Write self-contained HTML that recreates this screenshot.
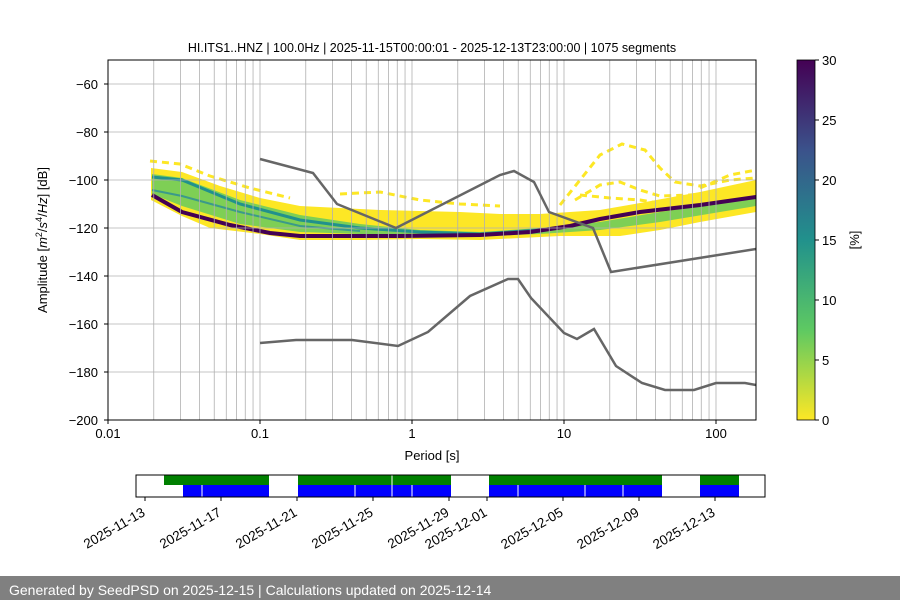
<!DOCTYPE html>
<html><head><meta charset="utf-8"><style>
body{margin:0;background:#fff;width:900px;height:600px;overflow:hidden;font-family:"Liberation Sans","DejaVu Sans",sans-serif}
</style></head><body>
<svg width="900" height="600" xmlns="http://www.w3.org/2000/svg" font-family="Liberation Sans, DejaVu Sans, sans-serif">
<defs>
<linearGradient id="vir" x1="0" y1="1" x2="0" y2="0">
<stop offset="0" stop-color="#fde725"/><stop offset="0.25" stop-color="#5ec962"/><stop offset="0.5" stop-color="#21918c"/><stop offset="0.75" stop-color="#3b528b"/><stop offset="1" stop-color="#440154"/>
</linearGradient>
<clipPath id="pc"><rect x="108" y="60" width="648" height="360"/></clipPath>
</defs>
<text x="432" y="52" font-size="12.5" text-anchor="middle">HI.ITS1..HNZ | 100.0Hz | 2025-11-15T00:00:01 - 2025-12-13T23:00:00 | 1075 segments</text>
<g clip-path="url(#pc)">
<!-- yellow cloud (main) -->
<polygon fill="#fde725" points="151,168 182,172 220,186 260,198 300,206 340,208 380,210 420,211 460,212 500,214 540,214 570,212 600,210 640,203 700,192 756,180 756,212 700,222 660,230 620,236 590,236 560,236 520,238 480,240 420,239 360,240 300,240 260,234 210,228 182,216 151,200"/>
<!-- scattered upper yellow -->
<g fill="none" stroke="#fde725" stroke-width="3" stroke-dasharray="7 5">
<polyline points="150,161 180,164 210,176 250,188 290,198"/>
<polyline points="340,194 380,192 420,200 460,204 500,206"/>
<polyline points="560,205 580,180 600,155 622,144 645,150 660,168 675,182 700,186 730,180 756,178"/>
<polyline points="575,200 600,185 620,182 640,190 660,196 690,195 720,192 756,186"/>
<polyline points="580,195 610,198 640,200 670,205"/>
<polyline points="700,188 730,175 756,170"/>
</g>
<!-- green band -->
<polygon fill="#5ec962" opacity="0.8" points="152,174 182,178 240,200 300,215 360,224 420,230 480,232 540,228 600,222 660,212 756,198 756,206 660,222 600,230 540,234 480,236 420,236 360,234 300,232 240,224 182,206 152,194"/>
<polyline fill="none" stroke="#21918c" stroke-width="3" points="152,177 182,180 240,204 300,220 360,228 420,232 480,234 540,230"/>
<polyline fill="none" stroke="#3b9a8a" stroke-width="2" points="152,190 182,196 240,212 300,226 360,231"/>
<!-- mode line -->
<polyline fill="none" stroke="#440154" stroke-width="4" points="152,195 182,212 230,225 270,233 300,236 400,236 480,235 530,232 570,226 600,219 640,212 700,205 756,197"/>
<!-- grid -->
<g stroke="#b0b0b0" stroke-width="0.8">
<line x1="108" y1="84" x2="756" y2="84"/><line x1="108" y1="132" x2="756" y2="132"/><line x1="108" y1="180" x2="756" y2="180"/><line x1="108" y1="228" x2="756" y2="228"/><line x1="108" y1="276" x2="756" y2="276"/><line x1="108" y1="324" x2="756" y2="324"/><line x1="108" y1="372" x2="756" y2="372"/>
</g>
<g stroke="#b0b0b0" stroke-width="0.8" id="vg"></g>
<!-- models -->
<polyline fill="none" stroke="#666" stroke-width="2.5" points="260,159 313,173 337,204 396,228 500,175 514,171 534,182 549,212 593,228 611,272 756,249"/>
<polyline fill="none" stroke="#666" stroke-width="2.5" points="260,343 296,340 352,340 398,346 428,332 470,296 508,279 518,279 531,298 564,333 577,339 594,329 616,366 642,383 665,390 694,390 716,383 745,383 756,385"/>
</g>
<rect x="108" y="60" width="648" height="360" fill="none" stroke="#000" stroke-width="1"/>
<g font-size="13" text-anchor="end">
<text x="98" y="89">−60</text><text x="98" y="137">−80</text><text x="98" y="185">−100</text><text x="98" y="233">−120</text><text x="98" y="281">−140</text><text x="98" y="329">−160</text><text x="98" y="377">−180</text><text x="98" y="425">−200</text>
</g>
<g stroke="#000"><line x1="104" y1="84" x2="108" y2="84"/><line x1="104" y1="132" x2="108" y2="132"/><line x1="104" y1="180" x2="108" y2="180"/><line x1="104" y1="228" x2="108" y2="228"/><line x1="104" y1="276" x2="108" y2="276"/><line x1="104" y1="324" x2="108" y2="324"/><line x1="104" y1="372" x2="108" y2="372"/><line x1="104" y1="420" x2="108" y2="420"/>
<line x1="108" y1="420" x2="108" y2="424"/><line x1="260" y1="420" x2="260" y2="424"/><line x1="412" y1="420" x2="412" y2="424"/><line x1="564" y1="420" x2="564" y2="424"/><line x1="716" y1="420" x2="716" y2="424"/></g>
<g font-size="13" text-anchor="middle"><text x="108" y="438">0.01</text><text x="260" y="438">0.1</text><text x="412" y="438">1</text><text x="564" y="438">10</text><text x="716" y="438">100</text></g>
<text x="432" y="460" font-size="13" text-anchor="middle">Period [s]</text>
<text transform="translate(47,240) rotate(-90)" font-size="13" text-anchor="middle">Amplitude [<tspan font-style="italic">m</tspan><tspan font-size="9" dy="-5">2</tspan><tspan dy="5">/</tspan><tspan font-style="italic">s</tspan><tspan font-size="9" dy="-5">4</tspan><tspan dy="5">/</tspan><tspan font-style="italic">Hz</tspan>] [dB]</text>
<!-- colorbar -->
<rect x="797" y="60" width="18" height="360" fill="url(#vir)" stroke="#000" stroke-width="0.8"/>
<g font-size="13"><text x="822" y="425">0</text><text x="822" y="365">5</text><text x="822" y="305">10</text><text x="822" y="245">15</text><text x="822" y="185">20</text><text x="822" y="125">25</text><text x="822" y="65">30</text></g>
<g stroke="#000"><line x1="815" y1="420" x2="819" y2="420"/><line x1="815" y1="360" x2="819" y2="360"/><line x1="815" y1="300" x2="819" y2="300"/><line x1="815" y1="240" x2="819" y2="240"/><line x1="815" y1="180" x2="819" y2="180"/><line x1="815" y1="120" x2="819" y2="120"/><line x1="815" y1="60" x2="819" y2="60"/></g>
<text transform="translate(859,240) rotate(-90)" font-size="13" text-anchor="middle">[%]</text>
<!-- timeline -->
<g>
<rect x="164" y="475" width="105" height="10" fill="#008000"/><rect x="298" y="475" width="153" height="10" fill="#008000"/><rect x="489" y="475" width="173" height="10" fill="#008000"/><rect x="700" y="475" width="39" height="10" fill="#008000"/>
<rect x="183" y="485" width="86" height="12" fill="#0000ff"/><rect x="298" y="485" width="153" height="12" fill="#0000ff"/><rect x="489" y="485" width="173" height="12" fill="#0000ff"/><rect x="700" y="485" width="39" height="12" fill="#0000ff"/>
<g stroke="#fff" stroke-width="1"><line x1="202" y1="485" x2="202" y2="497"/><line x1="355" y1="485" x2="355" y2="497"/><line x1="392" y1="475" x2="392" y2="497"/><line x1="412" y1="485" x2="412" y2="497"/><line x1="518" y1="485" x2="518" y2="497"/><line x1="585" y1="485" x2="585" y2="497"/><line x1="623" y1="485" x2="623" y2="497"/></g>
<rect x="136" y="475" width="629" height="22" fill="none" stroke="#000" stroke-width="1"/>
<g stroke="#000"><line x1="145" y1="497" x2="145" y2="501"/><line x1="221" y1="497" x2="221" y2="501"/><line x1="297" y1="497" x2="297" y2="501"/><line x1="373" y1="497" x2="373" y2="501"/><line x1="449" y1="497" x2="449" y2="501"/><line x1="487" y1="497" x2="487" y2="501"/><line x1="563" y1="497" x2="563" y2="501"/><line x1="639" y1="497" x2="639" y2="501"/><line x1="715" y1="497" x2="715" y2="501"/></g>
<g font-size="13.5" text-anchor="end">
<text transform="translate(146,515) rotate(-30)">2025-11-13</text>
<text transform="translate(222,515) rotate(-30)">2025-11-17</text>
<text transform="translate(298,515) rotate(-30)">2025-11-21</text>
<text transform="translate(374,515) rotate(-30)">2025-11-25</text>
<text transform="translate(450,515) rotate(-30)">2025-11-29</text>
<text transform="translate(488,515) rotate(-30)">2025-12-01</text>
<text transform="translate(564,515) rotate(-30)">2025-12-05</text>
<text transform="translate(640,515) rotate(-30)">2025-12-09</text>
<text transform="translate(716,515) rotate(-30)">2025-12-13</text>
</g>
</g>
<rect x="0" y="576" width="900" height="24" fill="#808080"/>
<text x="9" y="595" font-size="14" fill="#fff">Generated by SeedPSD on 2025-12-15 | Calculations updated on 2025-12-14</text>
</svg>
<script>
var g=document.getElementById('vg'),s='';
for(var d=-2;d<=2;d++){for(var m=1;m<=9;m++){var v=Math.log10(m)+d;var x=108+152*(v+2);if(x>108&&x<756){s+='<line x1="'+x+'" y1="60" x2="'+x+'" y2="420"/>';}}}
g.innerHTML=s;
</script>
</body></html>
